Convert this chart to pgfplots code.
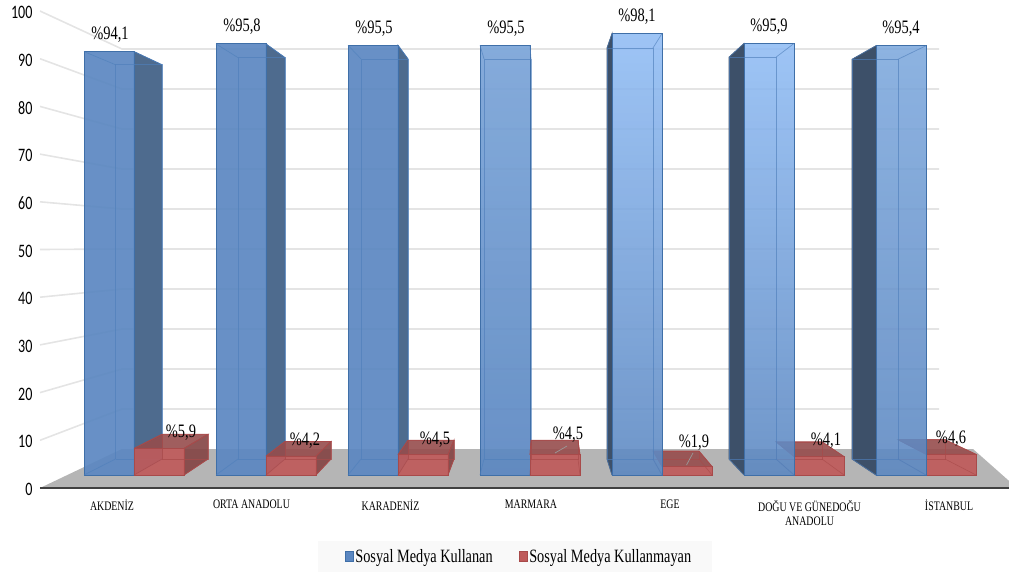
\documentclass[border=0pt]{standalone}
\usepackage{pgfplots}
\pgfplotsset{compat=1.18}
\usepackage{fontspec}
\setmainfont[FakeStretch=0.76]{Liberation Serif}
\newfontfamily\tickfont[FakeStretch=0.74]{Carlito}

\definecolor{gridc}{HTML}{E4E4E4}
\definecolor{floorc}{HTML}{B5B5B5}
\definecolor{lineA}{HTML}{3F6FA8}
\definecolor{lineB}{HTML}{4F7FBB}
\definecolor{lineR}{HTML}{A84A4A}
\definecolor{HTMLa}{HTML}{5B87C1}
\definecolor{HTMLb}{HTML}{7AA4D8}
\definecolor{HTMLc}{HTML}{90BCF4}
\definecolor{HTMLd}{HTML}{7DA8DD}
\definecolor{HTMLr}{HTML}{BF5A5A}
\definecolor{HTMLs}{HTML}{964C4C}
\definecolor{HTMLu}{HTML}{4E6B8E}
\definecolor{HTMLv}{HTML}{3D5069}
\definecolor{HTMLw}{HTML}{854646}

% Two depth planes of the prisms: d=0 is the near face, d=1 the far one.
\newcommand{\planey}{(2.725+3.355*\thisrow{d})+(0.9434-0.065*\thisrow{d})*\thisrow{v}}
% Wall lines: near end at the value, far end on the receding back wall.
\newcommand{\gridy}{8.176*\thisrow{d}+(1-0.1614*\thisrow{d})*\thisrow{v}}

\newcommand{\face}[2]{\addplot[#1,forget plot] table[x=x,y expr=\planey,row sep=\\]{x v d\\ #2};}
\newcommand{\gridline}[1]{\addplot[gridc,line width=1.6pt,forget plot] table[x=x,y expr=\gridy,row sep=\\]{x v d\\ 40 #1 0\\ 122 #1 1\\ 939 #1 1\\};}

% \prism{near left}{near right}{far left}{far right}{value}{style prefix}{left side}{right side}
\newcommand{\prism}[8]{%
  \face{#7}{#1 0 0\\ #1 #5 0\\ #3 #5 1\\ #3 0 1\\ #1 0 0\\}
  \face{#8}{#2 0 0\\ #2 #5 0\\ #4 #5 1\\ #4 0 1\\ #2 0 0\\}
  \face{#6 top}{#1 #5 0\\ #2 #5 0\\ #4 #5 1\\ #3 #5 1\\ #1 #5 0\\}
  \face{#6 front}{#1 0 0\\ #2 0 0\\ #2 #5 0\\ #1 #5 0\\ #1 0 0\\}
  \face{#6 edge}{#3 0 1\\ #4 0 1\\ #4 #5 1\\ #3 #5 1\\ #3 0 1\\}
  \face{#6 edge}{#1 0 0\\ #3 0 1\\}
  \face{#6 edge}{#2 0 0\\ #4 0 1\\}
  \face{#6 edge}{#1 #5 0\\ #3 #5 1\\}
  \face{#6 edge}{#2 #5 0\\ #4 #5 1\\}
}
\newcommand{\vallabel}[3]{\node[font=\fontsize{19}{20}\selectfont,inner sep=0pt] at (axis cs:#1,{(488-#2)/4.77}) {#3};}

\pgfplotsset{
  hidden/.style={draw=none,fill=none},
  % near faces of the blue columns
  blueA front/.style={top color=HTMLa,bottom color=HTMLa,draw=lineA,line width=0.9pt,fill opacity=.92},
  blueB front/.style={top color=HTMLb,bottom color=HTMLa,draw=lineA,line width=0.9pt,fill opacity=.92},
  blueC front/.style={top color=HTMLc,bottom color=HTMLa,draw=lineA,line width=0.9pt,fill opacity=.88},
  blueD front/.style={top color=HTMLd,bottom color=HTMLa,draw=lineA,line width=0.9pt,fill opacity=.88},
  blueA top/.style=hidden, blueB top/.style=hidden, blueC top/.style=hidden, blueD top/.style=hidden,
  blueA edge/.style={draw=lineB,line width=0.7pt,draw opacity=.65,fill=none},
  blueB edge/.style={blueA edge}, blueC edge/.style={blueA edge}, blueD edge/.style={blueA edge},
  red front/.style={fill=HTMLr,draw=lineR,line width=0.9pt,fill opacity=.92},
  red top/.style={fill=HTMLs,draw=lineR,line width=0.7pt,fill opacity=.9},
  red edge/.style={draw=lineR,line width=0.6pt,draw opacity=.7,fill=none},
  sideRight/.style={fill=HTMLu,draw=lineA,line width=0.7pt},
  sideLeft/.style={fill=HTMLv,draw=HTMLv,line width=0.7pt},
  sideRed/.style={fill=HTMLw,draw=lineR,line width=0.7pt,fill opacity=.92},
  sideNone/.style={draw=none,fill=none},
}

\begin{document}
\begin{tikzpicture}
\path[use as bounding box] (-40pt,0pt) rectangle (969pt,574pt);
\begin{axis}[
  scale only axis, width=969pt, height=574pt,
  xmin=40, xmax=1009, ymin=-18.03, ymax=102.31,
  axis x line=middle, axis y line=left, axis on top,
  x axis line style={-,draw=black!75,line width=1.8pt},
  y axis line style={-,draw=none},
  major tick length=0pt,
  ytick={0,10,...,100},
  yticklabel style={font=\tickfont\fontsize{19}{20}\selectfont,/pgf/number format/assume math mode=true,xshift=-4pt,yshift=-1.5pt},
  xtick={112,251.5,390.5,531,670,809.5,949},
  xticklabels={AKDENİZ,ORTA ANADOLU,KARADENİZ,MARMARA,EGE,DOĞU VE GÜNEDOĞU\\ANADOLU,İSTANBUL},
  xticklabel style={font=\fontsize{13}{14}\selectfont,align=center,anchor=north,yshift=-8.5pt},
  legend columns=2,
  legend style={at={(axis cs:519,-14.36)},anchor=center,draw=none,fill=none,
    font=\fontsize{18.8}{21}\selectfont,inner xsep=24pt,inner ysep=3pt,
    /tikz/every even column/.append style={column sep=24pt}},
]
\addlegendimage{legend image code/.code={\draw[lineA,fill=HTMLa,line width=0.6pt] (2pt,-5pt) rectangle (10pt,5pt);}}
\addlegendentry{Sosyal Medya Kullanan}
\addlegendimage{legend image code/.code={\draw[lineR,fill=HTMLr,line width=0.6pt] (2pt,-5pt) rectangle (10pt,5pt);}}
\addlegendentry{Sosyal Medya Kullanmayan}

% pale panel behind the legend
\addplot[fill=black!2.5,draw=none,forget plot] coordinates {(318,-11.11) (712,-11.11) (712,-17.61) (318,-17.61)};

% back wall and floor
\gridline{10}\gridline{20}\gridline{30}\gridline{40}\gridline{50}
\gridline{60}\gridline{70}\gridline{80}\gridline{90}\gridline{100}
\addplot[fill=floorc,draw=none,forget plot] coordinates {(40,0) (122,8.176) (973,8.176) (1017,0)};

% Akdeniz, Orta Anadolu, Karadeniz, Marmara: blue column, then red
\prism{84}{134}{115.5}{162}{94.1}{blueA}{sideNone}{sideRight}
\prism{134}{184}{162}{208}{5.9}{red}{sideNone}{sideRed}
\prism{216}{266}{238}{285}{95.8}{blueA}{sideNone}{sideRight}
\prism{266}{316}{285}{331}{4.2}{red}{sideNone}{sideRed}
\prism{348}{398}{361}{408}{95.5}{blueA}{sideNone}{sideRight}
\prism{398}{448}{408}{454}{4.5}{red}{sideNone}{sideRed}
\prism{480}{530}{484}{531}{95.5}{blueB}{sideNone}{sideNone}
\prism{530}{580}{531}{578}{4.5}{red}{sideNone}{sideNone}
% Ege, Dogu ve Guneydogu Anadolu, Istanbul: the red block sits behind the column
\prism{662}{712}{653}{699}{1.9}{red}{sideNone}{sideNone}
\prism{612}{662}{607}{653}{98.1}{blueC}{sideLeft}{sideNone}
\prism{794}{844}{776}{822}{4.1}{red}{sideNone}{sideNone}
\prism{744}{794}{729}{776}{95.9}{blueC}{sideLeft}{sideNone}
\prism{926}{976}{898}{945}{4.6}{red}{sideNone}{sideNone}
\prism{876}{926}{852}{898}{95.4}{blueD}{sideLeft}{sideNone}

% leader lines of the two displaced labels
\addplot[black!40,line width=0.7pt,forget plot] coordinates {(555,7.34) (567,8.8)};
\addplot[black!40,line width=0.7pt,forget plot] coordinates {(686.5,4.82) (693,7.34)};

\vallabel{110}{35}{\%94,1}
\vallabel{242}{27}{\%95,8}
\vallabel{374}{29}{\%95,5}
\vallabel{506}{29}{\%95,5}
\vallabel{637}{17}{\%98,1}
\vallabel{769}{27}{\%95,9}
\vallabel{901}{29}{\%95,4}
\vallabel{181}{433}{\%5,9}
\vallabel{305}{441}{\%4,2}
\vallabel{435}{440}{\%4,5}
\vallabel{568}{435}{\%4,5}
\vallabel{694}{443}{\%1,9}
\vallabel{826}{441}{\%4,1}
\vallabel{951}{439}{\%4,6}
\end{axis}
\end{tikzpicture}
\end{document}
